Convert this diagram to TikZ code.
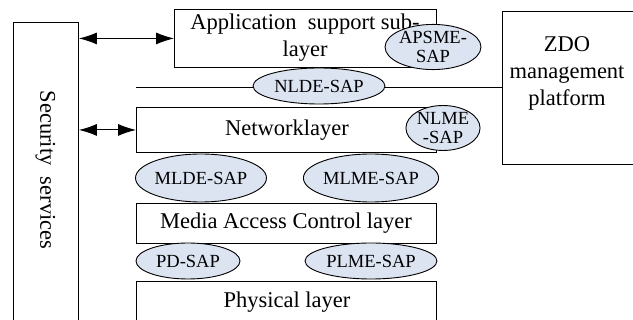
\documentclass[tikz,border=0pt]{standalone}
\usepackage{fontspec}
\setmainfont{Liberation Serif}
\usetikzlibrary{shapes.geometric,arrows.meta}
\definecolor{sapfill}{RGB}{220,228,242}
\tikzset{
  layerbox/.style={draw, line width=0.9pt, rectangle, inner sep=0pt},
  sap/.style={draw, line width=0.9pt, ellipse, fill=sapfill, inner sep=0pt,
    font=\fontsize{18.5}{19.5}\selectfont, align=center},
  big/.style={font=\fontsize{22.5}{27}\selectfont, align=center},
  dblarrow/.style={line width=0.9pt, {Latex[length=18pt,width=12pt]}-{Latex[length=18pt,width=12pt]}}
}
\begin{document}
\begin{tikzpicture}[x=1pt,y=-1pt]
\useasboundingbox (0,0) rectangle (633,320);
\fill[white] (0,0) rectangle (633,320);
\clip (0,0) rectangle (633,320);

% security column on the left
\node[layerbox, minimum width=65pt, minimum height=320pt, anchor=north west] (sec) at (13,22) {};
\node[big, rotate=-90] (sectxt) at (45.5,170) {Security\ \ services};

% ZDO management platform
\node[layerbox, minimum width=150pt, minimum height=153pt, anchor=north west] (zdo) at (502,11) {};
\node[big, align=center] (zdotxt) at (567,73) {ZDO\\management\\platform};

% stack of layers
\node[layerbox, minimum width=262pt, minimum height=58pt, anchor=north west] (aps) at (174,9) {};
\node[big] (apstxt) at (305,38) {Application\ \ support sub-\\layer};

\node[layerbox, minimum width=300pt, minimum height=45pt, anchor=north west, big] (nwk) at (136,107) {};
\node[big] (nwktxt) at (287,130) {Networklayer};

\node[layerbox, minimum width=300pt, minimum height=40pt, anchor=north west] (mac) at (136,203) {};
\node[big] (mactxt) at (286,223) {Media Access Control layer};

\node[layerbox, minimum width=300pt, minimum height=60pt, anchor=north west] (phy) at (136,281) {};
\node[big] (phytxt) at (287,302) {Physical layer};

% NLDE line between the application sublayer and the network layer
\coordinate (nldeL) at (136,87);
\draw[line width=0.9pt] (nldeL) -- (zdo.west |- nldeL);

% service access points
\node[sap, minimum width=132pt, minimum height=36pt] (nlde) at (319,86) {NLDE-SAP};
\node[sap, minimum width=62pt, minimum height=42pt] (apsme) at (433,47) {APSME-\\SAP};
\node[sap, minimum width=42pt, minimum height=42pt] (nlme) at (443,128) {NLME\\-SAP};
\node[sap, minimum width=131pt, minimum height=48pt] (mlde) at (201,178) {MLDE-SAP};
\node[sap, minimum width=132pt, minimum height=48pt] (mlme) at (371,178) {MLME-SAP};
\node[sap, minimum width=104pt, minimum height=36pt] (pd) at (188,261) {PD-SAP};
\node[sap, minimum width=132pt, minimum height=36pt] (plme) at (371,261) {PLME-SAP};

% links to the security services
\draw[dblarrow] (sec.east |- aps.west) -- (aps.west);
\draw[dblarrow] (sec.east |- nwk.west) -- (nwk.west);
\end{tikzpicture}
\end{document}
